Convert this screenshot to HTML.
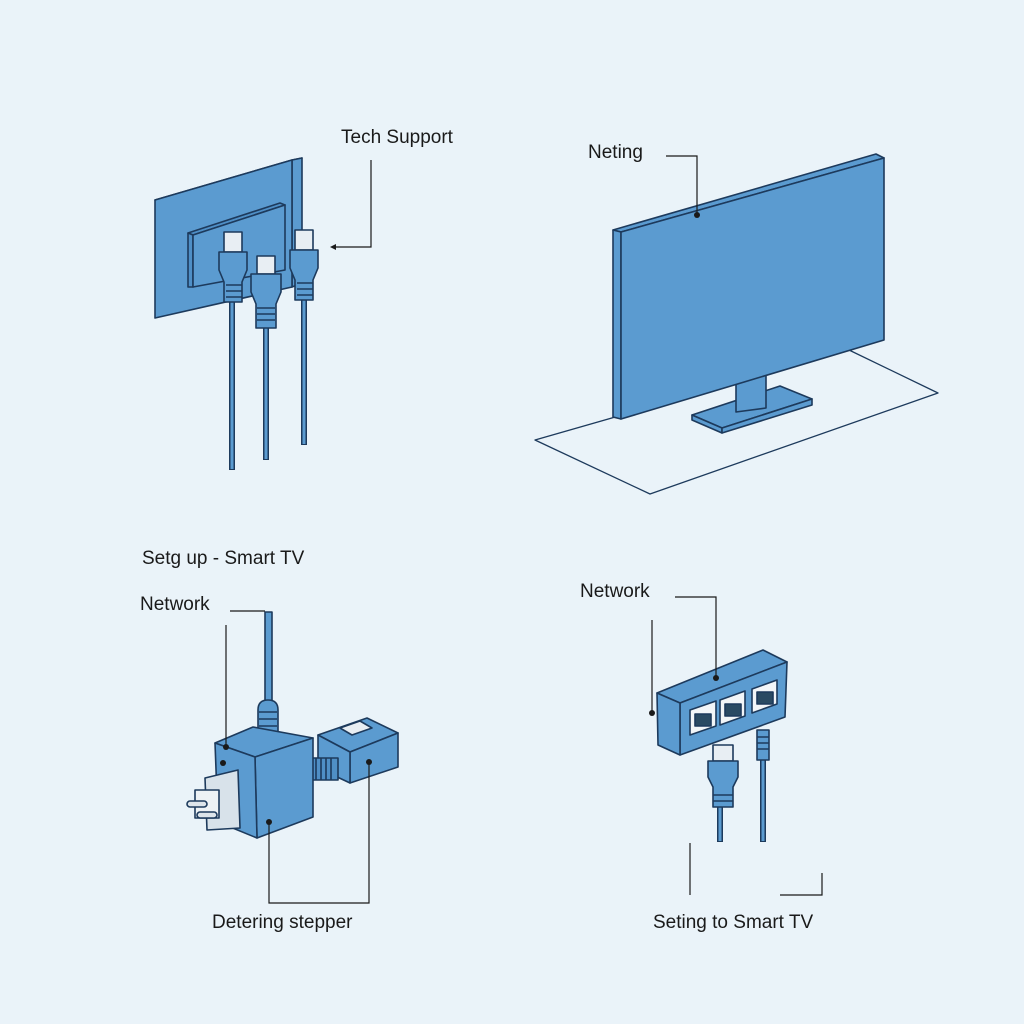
<!DOCTYPE html>
<html><head><meta charset="utf-8"><style>
html,body{margin:0;padding:0;background:#eaf3f9;}
svg{display:block}
text{font-family:"Liberation Sans",sans-serif;fill:#1a1a1a;font-size:19px}
</style></head><body>
<svg width="1024" height="1024" viewBox="0 0 1024 1024" xmlns="http://www.w3.org/2000/svg">
<rect width="1024" height="1024" fill="#eaf3f9"/>
<g stroke="#1d3a5c" stroke-width="1.6" stroke-linejoin="round" fill="#5b9bd0">
<!-- Top-left wall panel -->
<polygon points="155,200 292,160 302,158 165,198"/>
<polygon points="292,160 302,158 302,283 292,287"/>
<polygon points="155,200 292,160 292,287 155,318"/>
<polygon points="188,233 280,203 285,205 193,235" fill="#4f8fc6"/>
<polygon points="188,233 193,235 193,287 188,287" fill="#4f8fc6"/>
<polygon points="193,235 285,205 285,270 193,287" fill="#5b9bd0"/>
<!-- plugs -->
<g>
<line x1="232" y1="300" x2="232" y2="470" stroke-width="6"/>
<line x1="266" y1="325" x2="266" y2="460" stroke-width="6"/>
<line x1="304" y1="300" x2="304" y2="445" stroke-width="6"/>
<line x1="232" y1="300" x2="232" y2="469" stroke="#5b9bd0" stroke-width="3"/>
<line x1="266" y1="325" x2="266" y2="459" stroke="#5b9bd0" stroke-width="3"/>
<line x1="304" y1="300" x2="304" y2="444" stroke="#5b9bd0" stroke-width="3"/>
<rect x="224" y="232" width="18" height="20" fill="#e8eef3"/>
<path d="M219,252 h28 v18 l-5,12 v20 h-18 v-20 l-5,-12z"/>
<path d="M226,285 h16 M226,291 h16 M226,297 h16" fill="none"/>
<rect x="295" y="230" width="18" height="20" fill="#e8eef3"/>
<path d="M290,250 h28 v18 l-5,12 v20 h-18 v-20 l-5,-12z"/>
<path d="M297,283 h16 M297,289 h16 M297,295 h16" fill="none"/>
<rect x="257" y="256" width="18" height="18" fill="#e8eef3"/>
<path d="M251,274 h30 v18 l-5,12 v24 h-20 v-24 l-5,-12z"/>
<path d="M257,308 h18 M257,314 h18 M257,320 h18" fill="none"/>
</g>
<!-- TV -->
<polygon points="535,440 849,350 938,393 650,494" fill="none" stroke-width="1.3"/>
<polygon points="692,415 780,386 812,399 722,428"/>
<polygon points="692,415 722,428 722,433 692,420"/>
<polygon points="722,428 812,399 812,405 722,433"/>
<polygon points="736,378 766,370 766,408 736,412"/>
<polygon points="613,230 876,154 884,158 621,232"/>
<polygon points="613,230 621,232 621,419 613,417"/>
<polygon points="621,232 884,158 884,340 621,419"/>
<!-- bottom-left device -->
<rect x="265" y="612" width="7" height="95"/>
<path d="M258,745 v-35 q0,-10 10,-10 q10,0 10,10 v35z"/>
<path d="M259,712 h18 M259,719 h18 M259,726 h18" fill="none"/>
<polygon points="318,735 367,718 398,733 350,752"/>
<polygon points="350,752 398,733 398,767 350,783"/>
<polygon points="318,735 350,752 350,783 318,768"/>
<polygon points="340,728 360,721 372,728 352,735" fill="#e8eef3"/>
<rect x="312" y="758" width="26" height="22" fill="#4f8fc6"/>
<path d="M316,758 v22 M321,758 v22 M326,758 v22 M331,758 v22" fill="none"/>
<polygon points="215,743 253,727 313,738 255,757"/>
<polygon points="255,757 313,738 313,817 257,838"/>
<polygon points="215,743 255,757 257,838 218,822"/>
<polygon points="205,778 238,770 240,828 207,830" fill="#d8e2ea"/>
<rect x="195" y="790" width="24" height="28" fill="#eef2f5"/>
<rect x="187" y="801" width="20" height="6" fill="#dde4ea" rx="3"/>
<rect x="197" y="812" width="20" height="6" fill="#dde4ea" rx="3"/>
<!-- bottom-right switch -->
<polygon points="657,693 763,650 787,662 680,703"/>
<polygon points="680,703 787,662 785,717 680,755"/>
<polygon points="657,693 680,703 680,755 658,745"/>
<polygon points="690,710 716,701 716,726 690,735" fill="#f2f5f8"/>
<polygon points="720,700 745,691 745,716 720,725" fill="#f2f5f8"/>
<polygon points="752,689 777,680 777,704 752,713" fill="#f2f5f8"/>
<rect x="695" y="714" width="16" height="12" fill="#2a4a63"/>
<rect x="725" y="704" width="16" height="12" fill="#2a4a63"/>
<rect x="757" y="692" width="16" height="12" fill="#2a4a63"/>
<line x1="720" y1="800" x2="720" y2="842" stroke-width="6"/>
<line x1="763" y1="740" x2="763" y2="842" stroke-width="6"/>
<line x1="720" y1="800" x2="720" y2="841" stroke="#5b9bd0" stroke-width="3"/>
<line x1="763" y1="740" x2="763" y2="841" stroke="#5b9bd0" stroke-width="3"/>
<path d="M757,760 v-30 h12 v30z"/>
<path d="M757,737 h12 M757,743 h12 M757,749 h12" fill="none"/>
<rect x="713" y="745" width="20" height="16" fill="#e8eef3"/>
<path d="M708,761 h30 v16 l-5,10 v20 h-20 v-20 l-5,-10z"/>
<path d="M713,795 h20 M713,801 h20" fill="none"/>
</g>
<!-- annotations -->
<g stroke="#1a1a1a" stroke-width="1.2" fill="none">
<polyline points="371,160 371,247 332,247"/>
<polyline points="666,156 697,156 697,215"/>
<polyline points="230,611 265,611"/>
<line x1="226" y1="625" x2="226" y2="747"/>
<polyline points="269,822 269,903 369,903 369,762"/>
<polyline points="675,597 716,597 716,678"/>
<line x1="652" y1="620" x2="652" y2="713"/>
<line x1="690" y1="843" x2="690" y2="895"/>
<polyline points="780,895 822,895 822,873"/>
</g>
<g fill="#1a1a1a">
<path d="M330,247 l6,-3 v6z"/>
<circle cx="697" cy="215" r="3"/><circle cx="226" cy="747" r="3"/><circle cx="223" cy="763" r="3"/>
<circle cx="269" cy="822" r="3"/><circle cx="369" cy="762" r="3"/><circle cx="716" cy="678" r="3"/><circle cx="652" cy="713" r="3"/>
</g>
<text x="341" y="143">Tech Support</text>
<text x="588" y="158">Neting</text>
<text x="142" y="564">Setg up - Smart TV</text>
<text x="140" y="610">Network</text>
<text x="580" y="597">Network</text>
<text x="212" y="928">Detering stepper</text>
<text x="653" y="928">Seting to Smart TV</text>
</svg>
</body></html>
